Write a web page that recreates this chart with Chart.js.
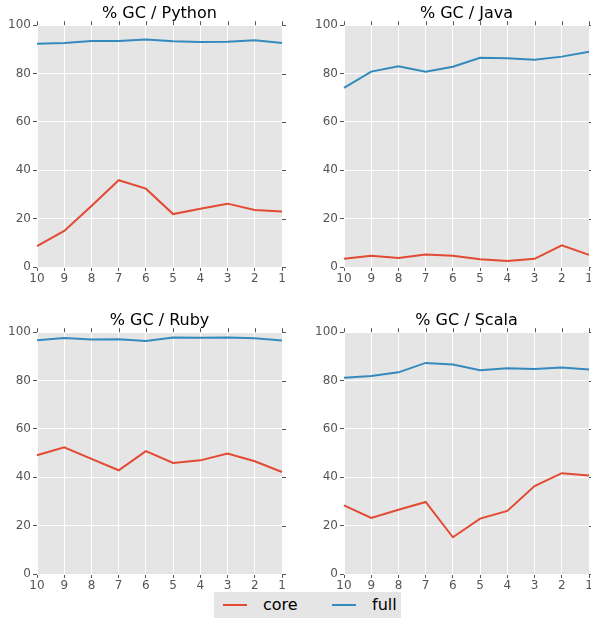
<!DOCTYPE html>
<html>
<head>
<meta charset="utf-8">
<script src="https://cdn.jsdelivr.net/npm/chart.js@4/dist/chart.umd.min.js"></script>
<style>
  html, body { margin: 0; padding: 0; background: #fff; overflow: hidden; }
  body { width: 591px; height: 618px; position: relative; font-family: "DejaVu Sans", sans-serif; }
  .panel { position: absolute; width: 295px; height: 295px; }
  #legend { position: absolute; left: 214px; top: 592px; width: 187px; height: 26px; background: #E5E5E5; }
  .item { position: absolute; top: 0; height: 26px; line-height: 26px; font-size: 16px; color: #000; }
  .swatch { position: absolute; top: 12px; width: 24px; height: 2px; }
</style>
</head>
<body>
<div class="panel" style="left:0;top:0"><canvas id="python" width="295" height="295"></canvas></div>
<div class="panel" style="left:307px;top:0"><canvas id="java" width="295" height="295"></canvas></div>
<div class="panel" style="left:0;top:307px"><canvas id="ruby" width="295" height="295"></canvas></div>
<div class="panel" style="left:307px;top:307px"><canvas id="scala" width="295" height="295"></canvas></div>
<div id="legend">
  <div class="swatch" style="left:9px;background:#E24A33"></div>
  <div class="item" style="left:49px">core</div>
  <div class="swatch" style="left:118px;background:#348ABD"></div>
  <div class="item" style="left:158px">full</div>
</div>
<script>
const runs = ['10', '9', '8', '7', '6', '5', '4', '3', '2', '1'];
const yTicks = [0, 20, 40, 60, 80, 100];

const pythonCore = [8.6, 14.9, 25.2, 35.9, 32.4, 21.9, 24.1, 26.2, 23.6, 23.0];
const pythonFull = [92.3, 92.6, 93.5, 93.5, 94.1, 93.4, 93.1, 93.2, 93.8, 92.6];
const javaCore = [3.4, 4.7, 3.7, 5.2, 4.7, 3.2, 2.5, 3.4, 9.0, 5.0];
const javaFull = [74.1, 80.8, 83.0, 80.8, 82.8, 86.5, 86.3, 85.7, 87.0, 89.0];
const rubyCore = [49.1, 52.4, 47.6, 42.9, 50.8, 45.9, 47.0, 49.8, 46.6, 42.2];
const rubyFull = [96.7, 97.6, 97.0, 97.1, 96.4, 97.8, 97.7, 97.8, 97.5, 96.6];
const scalaCore = [28.4, 23.2, 26.6, 29.8, 15.2, 22.9, 26.1, 36.4, 41.7, 40.7];
const scalaFull = [81.2, 81.9, 83.4, 87.3, 86.6, 84.3, 85.1, 84.8, 85.4, 84.6];

const RED = '#E24A33';
const BLUE = '#348ABD';
const TICK = '#555555';

Chart.defaults.font.family = '"DejaVu Sans", sans-serif';
Chart.defaults.animation = false;

// grey panel background and the small ticks on top / right edges
const panelPlugin = {
  id: 'panel',
  beforeDraw(chart) {
    const { ctx, chartArea: a } = chart;
    ctx.save();
    ctx.fillStyle = '#E5E5E5';
    ctx.fillRect(a.left, a.top, a.right - a.left, a.bottom - a.top);
    ctx.restore();
  },
  afterDraw(chart) {
    const { ctx, chartArea: a, scales } = chart;
    ctx.save();
    ctx.strokeStyle = TICK;
    ctx.lineWidth = 1;
    ctx.beginPath();
    scales.x.ticks.forEach((t, i) => {
      const px = Math.round(scales.x.getPixelForTick(i)) + 0.5;
      ctx.moveTo(px, a.top);
      ctx.lineTo(px, a.top - 4);
    });
    scales.y.ticks.forEach((t, i) => {
      const py = Math.round(scales.y.getPixelForTick(i)) + 0.5;
      ctx.moveTo(a.right, py);
      ctx.lineTo(a.right + 4, py);
    });
    ctx.stroke();
    ctx.restore();
  }
};

function makeChart(id, title, core, full) {
  return new Chart(document.getElementById(id), {
    type: 'line',
    data: {
      labels: runs,
      datasets: [
        { label: 'core', data: core, borderColor: RED, borderWidth: 2, pointRadius: 0, tension: 0 },
        { label: 'full', data: full, borderColor: BLUE, borderWidth: 2, pointRadius: 0, tension: 0 }
      ]
    },
    options: {
      responsive: false,
      layout: { padding: { left: 0, right: 13, top: 0, bottom: 0 } },
      plugins: {
        legend: { display: false },
        tooltip: { enabled: false },
        title: {
          display: true,
          text: title,
          color: '#000',
          fullSize: false,
          font: { size: 16, weight: 'normal' },
          padding: { top: 4, bottom: 2 }
        }
      },
      scales: {
        x: {
          offset: false,
          grid: { color: '#FFFFFF', lineWidth: 1, tickColor: TICK, tickLength: 4, offset: false },
          border: { display: false },
          ticks: { color: TICK, font: { size: 12 }, padding: 1, maxRotation: 0, autoSkip: false },
          afterFit(scale) { scale.height = 28; }
        },
        y: {
          min: 0,
          max: 100,
          afterBuildTicks(scale) { scale.ticks = yTicks.map(v => ({ value: v })); },
          grid: { color: '#FFFFFF', lineWidth: 1, tickColor: TICK, tickLength: 4 },
          border: { display: false },
          ticks: { color: TICK, font: { size: 12 }, padding: 2 },
          afterFit(scale) { scale.width = 37; }
        }
      }
    },
    plugins: [panelPlugin]
  });
}

makeChart('python', '% GC / Python', pythonCore, pythonFull);
makeChart('java', '% GC / Java', javaCore, javaFull);
makeChart('ruby', '% GC / Ruby', rubyCore, rubyFull);
makeChart('scala', '% GC / Scala', scalaCore, scalaFull);
</script>
</body>
</html>
